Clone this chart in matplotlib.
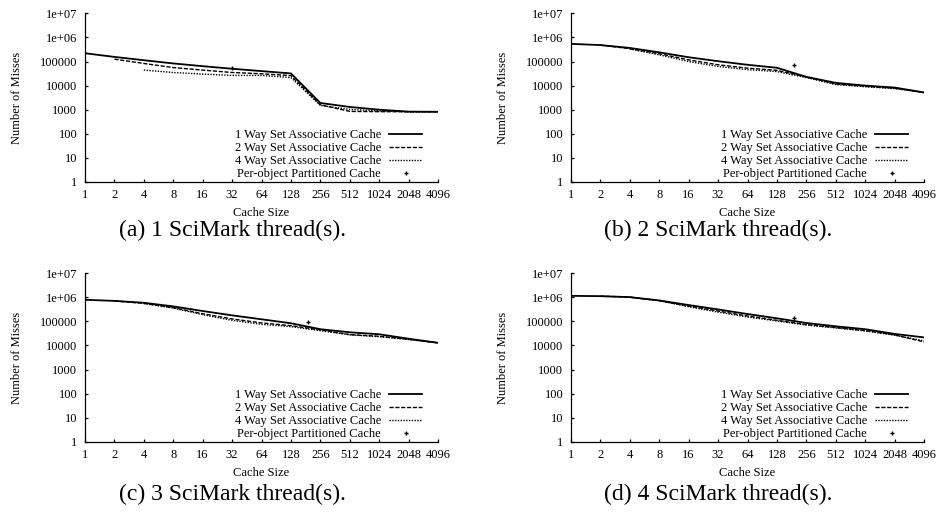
import numpy as np
import matplotlib
matplotlib.use("Agg")
import matplotlib.pyplot as plt

# ============================================================
# DATA
# ============================================================

cache_sizes = [1, 2, 4, 8, 16, 32, 64, 128, 256, 512, 1024, 2048, 4096]
size_labels = [str(s) for s in cache_sizes]

y_ticks = [1, 10, 100, 1000, 10000, 100000, 1e6, 1e7]
y_tick_labels = ["1", "10", "100", "1000", "10000", "100000", "1e+06", "1e+07"]

# 1 SciMark thread
a_1way = [220000, 155000, 113000, 83000, 64000, 50000, 40000, 32000, 1900, 1300, 1000, 830, 820]
a_2way = [125000, 83000, 56000, 44000, 35000, 31000, 26000, 1600, 850, 830, 820, 820]
a_4way = [44000, 35000, 30000, 26500, 26500, 21500, 1500, 1030, 890, 830, 820]
a_point = (32, 56000)

# 2 SciMark threads
b_1way = [540000, 480000, 365000, 240000, 150000, 103000, 73000, 55000, 23000, 13000, 10000, 8300, 5200]
b_2way = [480000, 340000, 210000, 117000, 73000, 53000, 43000, 23000, 11700, 9300, 7800, 5200]
b_4way = [330000, 188000, 100000, 62000, 46000, 38000, 21500, 11000, 9000, 7500, 5200]
b_point = (192, 69000)

# 3 SciMark threads
c_1way = [777000, 700000, 585000, 414000, 266000, 176000, 121000, 83000, 47000, 35000, 29000, 19000, 12800]
c_2way = [700000, 550000, 365000, 206000, 125000, 86000, 66000, 44000, 28000, 24000, 18000, 12800]
c_4way = [550000, 353000, 188000, 110000, 75000, 60000, 41000, 27500, 23000, 17500, 12800]
c_point = (192, 94000)

# 4 SciMark threads
d_1way = [1130000, 1100000, 1000000, 730000, 470000, 310000, 200000, 133000, 85000, 62000, 47000, 30000, 21500]
d_2way = [1100000, 1000000, 720000, 426000, 266000, 166000, 110000, 73000, 55000, 41000, 27500, 14000]
d_4way = [990000, 710000, 400000, 240000, 150000, 103000, 70000, 53000, 40000, 26500, 15500]
d_point = (192, 142000)

captions = ["(a) 1 SciMark thread(s).", "(b) 2 SciMark thread(s).",
            "(c) 3 SciMark thread(s).", "(d) 4 SciMark thread(s)."]

panels = [(a_1way, a_2way, a_4way, a_point),
          (b_1way, b_2way, b_4way, b_point),
          (c_1way, c_2way, c_4way, c_point),
          (d_1way, d_2way, d_4way, d_point)]

# ============================================================
# FIGURE
# ============================================================

plt.rcParams['font.family'] = ['Liberation Serif', 'DejaVu Serif']
plt.rcParams['font.size'] = 9

W, H = 938, 516
fig = plt.figure(figsize=(W / 100, H / 100), dpi=100)

# axes boxes in pixels: left, top, right, bottom
boxes = [(85, 13.3, 438, 182), (571, 13.3, 924, 182),
         (85, 273, 438, 442), (571, 273, 924, 442)]
caption_pos = [(232, 230), (718, 230), (232, 494), (718, 494)]

for k, (one, two, four, pt) in enumerate(panels):
    l, t, r, b = boxes[k]
    ax = fig.add_axes([l / W, (H - b) / H, (r - l) / W, (b - t) / H])

    ax.plot(cache_sizes, one, color="black", lw=1.3, label="1 Way Set Associative Cache")
    ax.plot(cache_sizes[1:], two, color="black", lw=1.0, dashes=(3, 1.2),
            label="2 Way Set Associative Cache")
    ax.plot(cache_sizes[2:], four, color="black", lw=1.0, dashes=(1, 1),
            label="4 Way Set Associative Cache")
    ax.plot([pt[0]], [pt[1]], ls="none", marker="+", ms=3.4, mew=1.0, color="black",
            label="Per-object Partitioned Cache")

    ax.set_xscale("log", base=2)
    ax.set_yscale("log")
    ax.set_xlim(1, 4096)
    ax.set_ylim(1, 1e7)
    ax.set_xticks(cache_sizes)
    ax.set_xticklabels(size_labels)
    ax.set_yticks(y_ticks)
    ax.set_yticklabels(y_tick_labels)
    ax.minorticks_off()
    ax.tick_params(direction="in", length=2.5, width=0.9, labelsize=9)
    ax.tick_params(axis="x", pad=5)
    ax.tick_params(axis="y", pad=5.5)

    ax.spines["top"].set_visible(False)
    ax.spines["right"].set_visible(False)
    ax.spines["left"].set_linewidth(0.9)
    ax.spines["bottom"].set_linewidth(0.9)

    ax.set_xlabel("Cache Size", fontsize=9)
    ax.set_ylabel("Number of Misses", fontsize=9)
    ax.xaxis.set_label_coords(0.5, -0.148)
    ax.yaxis.set_label_coords(-0.176, 0.5)

    ax.legend(loc="lower right", bbox_to_anchor=(0.955, 0.012), frameon=False,
              markerfirst=False, fontsize=9, handlelength=2.64, handletextpad=0.64,
              labelspacing=0.08, borderpad=0, borderaxespad=0)

    cx, cy = caption_pos[k]
    fig.text(cx / W, (H - cy) / H, captions[k], ha="center", va="center", fontsize=17)

fig.savefig("out.png", dpi=100)
